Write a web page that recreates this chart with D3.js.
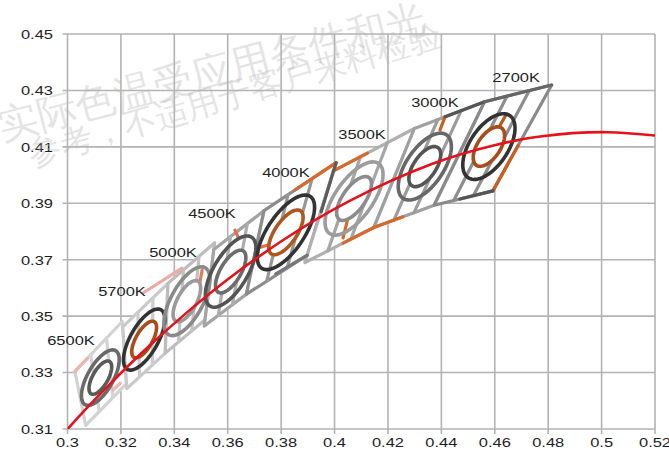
<!DOCTYPE html>
<html>
<head>
<meta charset="utf-8">
<script src="https://cdn.jsdelivr.net/npm/d3@7"></script>
<style>
  body { margin: 0; background: #fff; }
  text { font-family: "Liberation Sans", Arial, sans-serif; }
</style>
</head>
<body>
<script>
// ---- data ----
const xTicks = [0.3, 0.32, 0.34, 0.36, 0.38, 0.4, 0.42, 0.44, 0.46, 0.48, 0.5, 0.52];
const yTicks = [0.31, 0.33, 0.35, 0.37, 0.39, 0.41, 0.43, 0.45];

const ccts = ["6500K", "5700K", "5000K", "4500K", "4000K", "3500K", "3000K", "2700K"];
const centerX = [0.3123, 0.3287, 0.3447, 0.3611, 0.3818, 0.4073, 0.4338, 0.4578];
const centerY = [0.3282, 0.3417, 0.3553, 0.3658, 0.3797, 0.3917, 0.4030, 0.4101];

// quadrangle corners: top-left, top-right, bottom-right, bottom-left
const quadX = [
  [0.3028, 0.3205, 0.3221, 0.3068],
  [0.3207, 0.3376, 0.3366, 0.3222],
  [0.3376, 0.3551, 0.3515, 0.3366],
  [0.3548, 0.3736, 0.3670, 0.3512],
  [0.3736, 0.4006, 0.3898, 0.3670],
  [0.3996, 0.4299, 0.4147, 0.3889],
  [0.4299, 0.4562, 0.4373, 0.4147],
  [0.4562, 0.4813, 0.4593, 0.4373]
];
const quadY = [
  [0.3304, 0.3481, 0.3261, 0.3113],
  [0.3462, 0.3616, 0.3369, 0.3243],
  [0.3616, 0.3760, 0.3487, 0.3369],
  [0.3736, 0.3874, 0.3578, 0.3465],
  [0.3874, 0.4044, 0.3716, 0.3578],
  [0.4015, 0.4165, 0.3814, 0.3690],
  [0.4165, 0.4260, 0.3893, 0.3814],
  [0.4260, 0.4319, 0.3944, 0.3893]
];
// where the sub-bin lines cross each quadrangle (fraction along top / bottom edge)
const subBins = [1 / 3, 2 / 3];

// one-step MacAdam ellipse: semi axes a, b and angle (deg)
const ellA = [0.00223, 0.00246, 0.00274, 0.00290, 0.00313, 0.00309, 0.00278, 0.00270];
const ellB = [0.00095, 0.00102, 0.00118, 0.00125, 0.00134, 0.00138, 0.00136, 0.00140];
const ellTheta = [58.6, 58.6, 59.6, 57.0, 53.7, 52.6, 53.2, 53.7];
const ellSteps = [5, 3];

// highlighted boundary pieces [x1, y1, x2, y2]
const accentSegs = [
  [0.3853, 0.3948, 0.4006, 0.4044],
  [0.3996, 0.4015, 0.4123, 0.4078],
  [0.4032, 0.3759, 0.4147, 0.3814],
  [0.4147, 0.3814, 0.4256, 0.3852],
  [0.4051, 0.3851, 0.4032, 0.3777],
  [0.4395, 0.4160, 0.4414, 0.4207],
  [0.4687, 0.4104, 0.4593, 0.3944],
  [0.4642, 0.4213, 0.4620, 0.4177],
  [0.3627, 0.3805, 0.3639, 0.3780],
  [0.3710, 0.3741, 0.3751, 0.3752],
  [0.3504, 0.3663, 0.3496, 0.3621],
  [0.3283, 0.3582, 0.3429, 0.3670],
  [0.3028, 0.3304, 0.3075, 0.3351],
  [0.3170, 0.3238, 0.3197, 0.3262],
  [0.4414, 0.4207, 0.4562, 0.4260],
  [0.4562, 0.4260, 0.4813, 0.4319],
  [0.4593, 0.3944, 0.4470, 0.3915],
  [0.4006, 0.4044, 0.3950, 0.3870],
  [0.3898, 0.3716, 0.3780, 0.3650]
];

// Planckian locus
const planckX = [0.2951, 0.3064, 0.3135, 0.3221, 0.3324, 0.3451, 0.3608, 0.3805, 0.4053, 0.4369, 0.4599, 0.4770, 0.5019, 0.5267];
const planckY = [0.3048, 0.3166, 0.3236, 0.3318, 0.3410, 0.3516, 0.3636, 0.3768, 0.3907, 0.4041, 0.4106, 0.4137, 0.4152, 0.4133];

// label anchors (data coords)
const labelX = [0.3013, 0.3204, 0.3395, 0.3541, 0.3818, 0.4103, 0.4376, 0.4680];
const labelY = [0.3415, 0.3589, 0.3727, 0.3865, 0.4011, 0.4146, 0.4259, 0.4348];

// ---- styles ----
const quadStroke = ["#d2d2d2", "#c9c9c9", "#bdbdbd", "#a4a4a4", "#8c8c8c", "#b0b0b0", "#a0a0a0", "#8a8a8a"];
const innerLineStroke = ["#d4d4d4", "#cccccc", "#c2c2c2", "#adadad", "#979797", "#a6a6a6", "#9c9c9c", "#8e8e8e"];
const ellOuterColor = ["#6a6a6a", "#333333", "#8a8a8a", "#545454", "#333333", "#9c9c9c", "#686868", "#333333"];
const ellInnerColor = ["#5a5a5a", "#a84c1c", "#9a9a9a", "#6c6c6c", "#b0561e", "#8c8c8c", "#555555", "#a84c1c"];
const accentColor = ["#d8692c", "#d8692c", "#d8692c", "#d8692c", "#d8692c", "#c8601f", "#c8601f", "#b65a22",
                     "#e07050", "#e07050", "#e27a5e", "#eeaaa0", "#f0b4aa", "#f0b4aa",
                     "#555555", "#666666", "#555555", "#5c5c5c", "#777777"];

const W = 669, H = 453;
const svg = d3.select("body").append("svg").attr("width", W).attr("height", H);

const x = d3.scaleLinear().domain([0.3, 0.52]).range([67.5, 655]);
const y = d3.scaleLinear().domain([0.31, 0.45]).range([429, 34]);

// grid
svg.append("g").selectAll("line").data(xTicks).enter().append("line")
  .attr("x1", d => x(d)).attr("x2", d => x(d))
  .attr("y1", y(0.45)).attr("y2", y(0.31) + 5)
  .attr("stroke", "#b3b3b3").attr("stroke-width", 1.6);
svg.append("g").selectAll("line").data(yTicks).enter().append("line")
  .attr("y1", d => y(d)).attr("y2", d => y(d))
  .attr("x1", x(0.3) - 5).attr("x2", x(0.52))
  .attr("stroke", "#b3b3b3").attr("stroke-width", 1.6);

// tick labels (stretched glyphs like the source)
function stretchedText(g, tx, ty, str, anchor) {
  return g.append("text")
    .attr("transform", "translate(" + tx + "," + ty + ") scale(1.22,1)")
    .attr("text-anchor", anchor)
    .attr("font-size", 13.5)
    .attr("fill", "#1e1e1e")
    .text(str);
}
const tickG = svg.append("g");
yTicks.forEach(d => stretchedText(tickG, 53, y(d) + 4.8, d3.format(".2f")(d), "end"));
xTicks.forEach(d => stretchedText(tickG, x(d), 447, String(+d.toFixed(2)), "middle"));

// quadrangles
const idx = d3.range(ccts.length);
const quadG = svg.append("g");
idx.forEach(i => {
  const pts = quadX[i].map((qx, k) => [x(qx), y(quadY[i][k])]);
  quadG.append("polygon")
    .attr("points", pts.map(p => p.join(",")).join(" "))
    .attr("fill", "#fff")
    .attr("stroke", quadStroke[i])
    .attr("stroke-width", 3.2)
    .attr("stroke-linejoin", "round");
});

// sub-bin dividing lines
idx.forEach(i => {
  subBins.forEach(t => {
    const tx = quadX[i][0] + t * (quadX[i][1] - quadX[i][0]);
    const ty = quadY[i][0] + t * (quadY[i][1] - quadY[i][0]);
    const bx = quadX[i][3] + t * (quadX[i][2] - quadX[i][3]);
    const by = quadY[i][3] + t * (quadY[i][2] - quadY[i][3]);
    quadG.append("line")
      .attr("x1", x(tx)).attr("y1", y(ty))
      .attr("x2", x(bx)).attr("y2", y(by))
      .attr("stroke", innerLineStroke[i])
      .attr("stroke-width", 3.2)
      .attr("stroke-linecap", "round");
  });
});

// accent segments (drawn under the ellipses)
svg.append("g").selectAll("line").data(accentSegs).enter().append("line")
  .attr("x1", d => x(d[0])).attr("y1", d => y(d[1]))
  .attr("x2", d => x(d[2])).attr("y2", d => y(d[3]))
  .attr("stroke", (d, i) => accentColor[i])
  .attr("stroke-width", 3.2)
  .attr("stroke-linecap", "round");

// MacAdam ellipses
function ellipsePath(i, steps) {
  const a = ellA[i] * steps, b = ellB[i] * steps;
  const th = ellTheta[i] * Math.PI / 180;
  const pts = d3.range(0, 73).map(k => {
    const t = k / 72 * 2 * Math.PI;
    const ex = centerX[i] + a * Math.cos(t) * Math.cos(th) - b * Math.sin(t) * Math.sin(th);
    const ey = centerY[i] + a * Math.cos(t) * Math.sin(th) + b * Math.sin(t) * Math.cos(th);
    return [x(ex), y(ey)];
  });
  return d3.line()(pts) + "Z";
}
const ellG = svg.append("g");
idx.forEach(i => {
  ellG.append("path").attr("d", ellipsePath(i, ellSteps[0]))
    .attr("fill", "none").attr("stroke", ellOuterColor[i]).attr("stroke-width", 3.6);
  ellG.append("path").attr("d", ellipsePath(i, ellSteps[1]))
    .attr("fill", "#fff").attr("stroke", ellInnerColor[i]).attr("stroke-width", 3.6);
});

// Planckian locus
svg.append("clipPath").attr("id", "plot")
  .append("rect").attr("x", x(0.3)).attr("y", y(0.45))
  .attr("width", x(0.52) - x(0.3)).attr("height", y(0.31) - y(0.45));
svg.append("path")
  .datum(planckX.map((px, k) => [px, planckY[k]]))
  .attr("clip-path", "url(#plot)")
  .attr("d", d3.line().x(d => x(d[0])).y(d => y(d[1])).curve(d3.curveNatural))
  .attr("fill", "none")
  .attr("stroke", "#e3121b")
  .attr("stroke-width", 2.6);

// CCT labels
const labG = svg.append("g");
idx.forEach(i => stretchedText(labG, x(labelX[i]), y(labelY[i]) + 5, ccts[i], "middle"));

// watermark
const wm = svg.append("g")
  .attr("fill", "#b8b8b8").attr("fill-opacity", 0.38)
  .style("font-family", "'Noto Sans CJK SC', sans-serif");
wm.append("text")
  .attr("transform", "translate(2,140) rotate(-14.5)")
  .attr("font-size", 40)
  .text("实际色温受应用条件和光");
wm.append("text")
  .attr("transform", "translate(32,166) rotate(-16.5)")
  .attr("font-size", 33)
  .text("参考，不适用于客户来料检验");
</script>
</body>
</html>
